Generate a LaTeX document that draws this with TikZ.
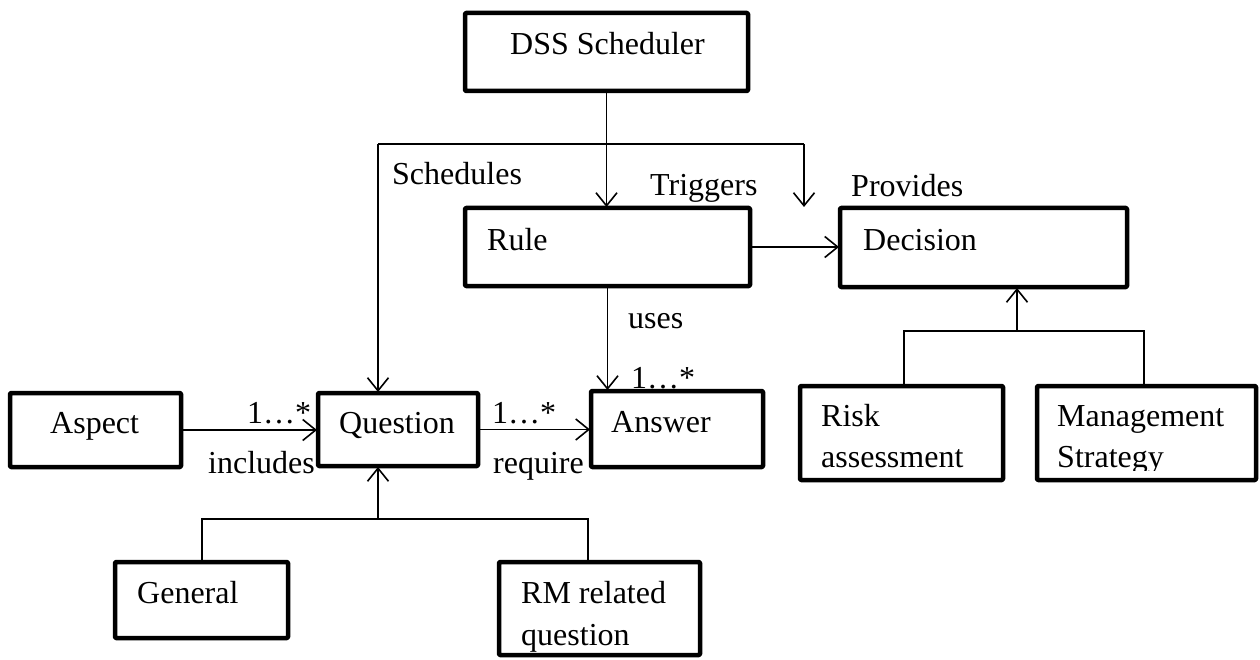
\documentclass[tikz,border=0pt]{standalone}
\usepackage{fontspec}
\setmainfont{Liberation Serif}
\usetikzlibrary{arrows.meta}
\begin{document}
\begin{tikzpicture}[x=1pt,y=-1pt,
  font=\fontsize{32}{40}\selectfont,
  box/.style={draw, line width=4.5pt, line join=round, rounded corners=1pt,
    rectangle, inner sep=0pt, outer sep=0pt, anchor=north west},
  txt/.style={inner sep=0pt, anchor=base west},
  link/.style={line width=1.6pt},
  arr/.style={link, -{Straight Barb[length=13pt,width=21pt]}, shorten >=1pt}]
\useasboundingbox (0,0) rectangle (1260,660);

% class boxes
\node[box, minimum width=283pt, minimum height=78pt] (dss)      at (465,13)  {};
\node[box, minimum width=285pt, minimum height=78pt] (rule)     at (465,208) {};
\node[box, minimum width=287pt, minimum height=79pt] (decision) at (840,208) {};
\node[box, minimum width=171pt, minimum height=74pt] (aspect)   at (10,393)  {};
\node[box, minimum width=160pt, minimum height=73pt] (question) at (318,393) {};
\node[box, minimum width=172pt, minimum height=76pt] (answer)   at (591,391) {};
\node[box, minimum width=173pt, minimum height=76pt] (general)  at (115,562) {};
\node[box, minimum width=201pt, minimum height=93pt] (rm)       at (499,562) {};
\node[box, minimum width=203pt, minimum height=94pt] (risk)     at (800,386) {};
\node[box, minimum width=219pt, minimum height=94pt] (mgmt)     at (1037,386) {};

% box texts
\node[txt] (tdss)  at (510,55)  {DSS Scheduler};
\node[txt] (trule) at (487,251) {Rule};
\node[txt] (tdec)  at (863,251) {Decision};
\node[txt] (tasp)  at (50,433)  {Aspect};
\node[txt] (tque)  at (339,433) {Question};
\node[txt] (tans)  at (611,432) {Answer};
\node[txt] (tgen)  at (137,603) {General};
\node[txt] (trm1)  at (521,603) {RM related};
\node[txt] (trm2)  at (521,645) {question};
\node[txt] (trisk1) at (821,426) {Risk};
\node[txt] (trisk2) at (821,467) {assessment};
\node[txt] (tmg1)  at (1057,426) {Management};
\begin{scope}
  \clip (1037,386) rectangle (1256,470);
  \node[txt] (tmg2) at (1057,467) {Strategy};
\end{scope}

% scheduler fan-out
\coordinate (hubL) at (378,144);
\coordinate (hubR) at (804,144);
\draw[arr] (dss.south) -- (dss.south |- rule.north);
\draw[link] (hubL) -- (hubR);
\draw[arr] (hubL) -- (hubL |- question.north);
\draw[arr] (hubR) -- (hubR |- decision.north);

% associations
\draw[arr] (rule.east) -- (rule.east -| decision.west);
\draw[arr] (rule.south) -- (rule.south |- answer.north);
\draw[arr] (aspect.east) -- (aspect.east -| question.west);
\draw[arr] (question.east) -- (question.east -| answer.west);

% generalisation of Question
\coordinate (qL) at (202,519);
\coordinate (qM) at (378,519);
\coordinate (qR) at (588,519);
\draw[link] (general.north -| qL) -- (qL) -- (qR) -- (rm.north -| qR);
\draw[arr] (qM) -- (qM |- question.south);

% generalisation of Decision
\coordinate (dL) at (904,331);
\coordinate (dM) at (1017,331);
\coordinate (dR) at (1144,331);
\draw[link] (risk.north -| dL) -- (dL) -- (dR) -- (mgmt.north -| dR);
\draw[arr] (dM) -- (dM |- decision.south);

% connector labels
\node[txt] (lsched) at (392,185) {Schedules};
\node[txt] (ltrig)  at (650,196) {Triggers};
\node[txt] (lprov)  at (851,197) {Provides};
\node[txt] (luses)  at (628,328) {uses};
\node[txt] (lmult3) at (631,388) {1…*};
\node[txt] (lmult1) at (247,423) {1…*};
\node[txt] (lmult2) at (492,423) {1…*};
\node[txt] (lincl)  at (208,473) {includes};
\node[txt] (lreq)   at (493,473) {require};
\end{tikzpicture}
\end{document}
